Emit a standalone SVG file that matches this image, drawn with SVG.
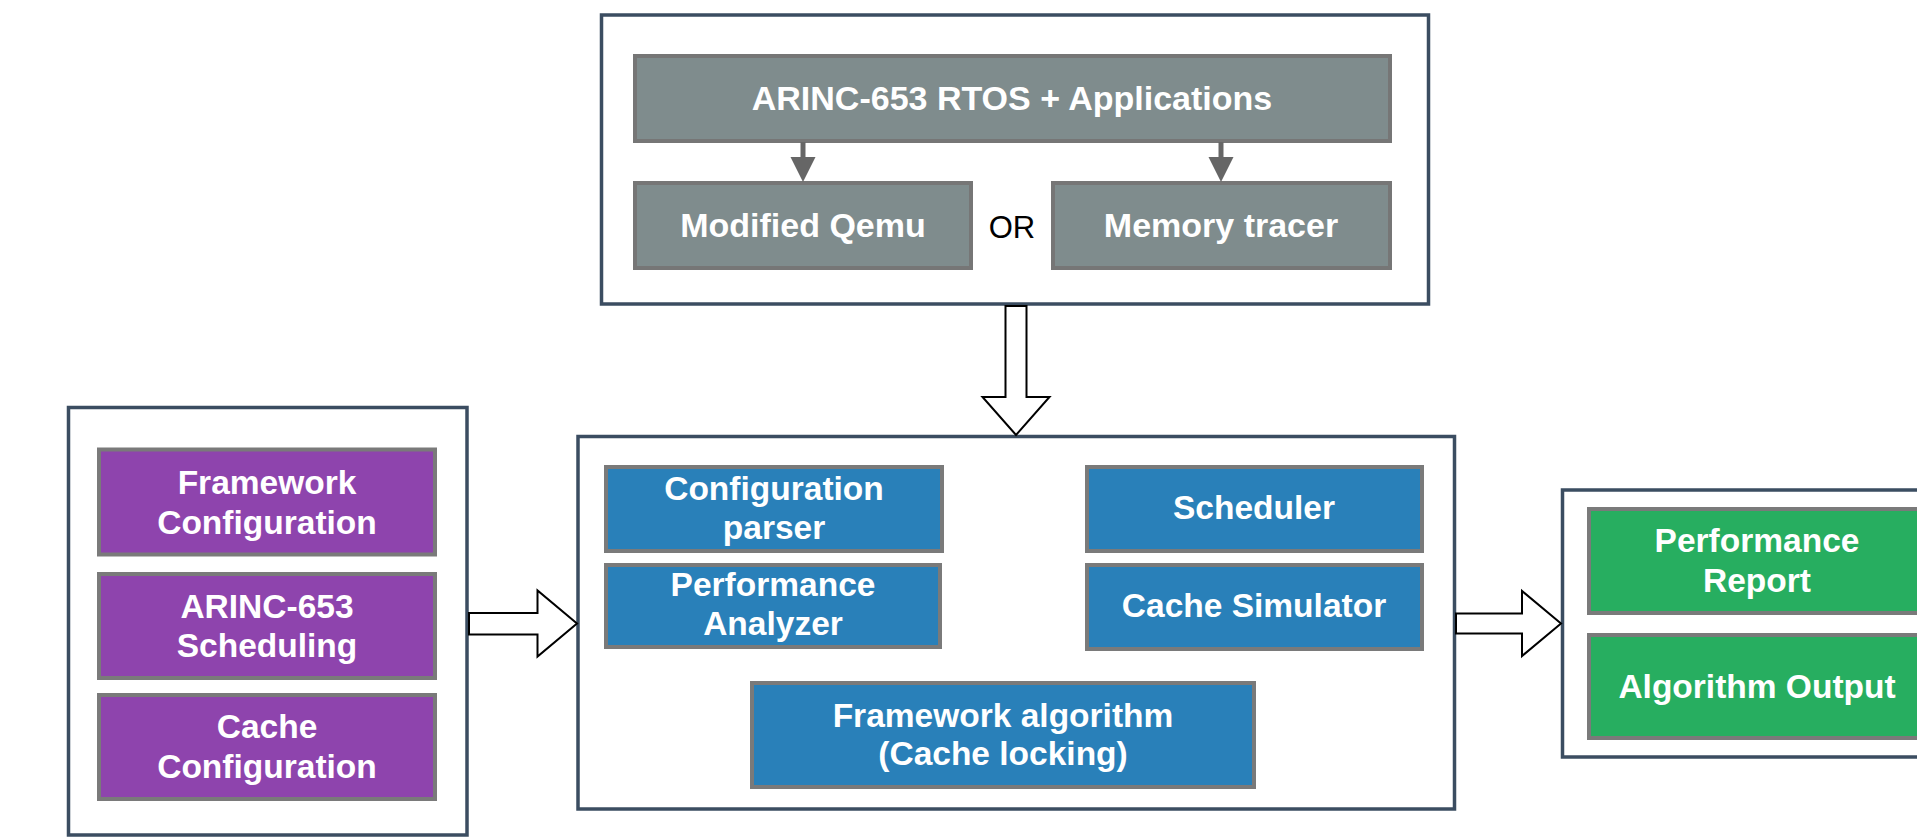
<svg xmlns="http://www.w3.org/2000/svg" width="1917" height="839" viewBox="0 0 1917 839">
<style>
.frame{fill:#ffffff;stroke:#3b4d61;stroke-width:3.5}
.gray{fill:#7f8c8d;stroke:#767676;stroke-width:4}
.purple{fill:#8e44ad;stroke:#7a7a7a;stroke-width:4}
.blue{fill:#2980b9;stroke:#7a7a7a;stroke-width:4}
.green{fill:#27ae60;stroke:#7a7a7a;stroke-width:4}
.t{font-family:"Liberation Sans",Arial,Helvetica,sans-serif;font-weight:bold;font-size:33.5px;fill:#ffffff;text-anchor:middle}
.tl{font-size:34px}
.or{font-family:"Liberation Sans",Arial,Helvetica,sans-serif;font-size:31px;fill:#000000;text-anchor:middle}
.hollow{fill:#ffffff;stroke:#000000;stroke-width:2;stroke-linejoin:miter}
.thin{stroke:#666666;stroke-width:5;fill:none}
.head{fill:#666666}
</style>
<rect width="1917" height="839" fill="#ffffff"/>

<g id="source-group">
<rect class="frame" x="601.5" y="15" width="827" height="289"/>
</g>
<g id="arinc-rtos">
<rect class="gray" x="635" y="56" width="755" height="85"/>
<text class="t tl" x="1012" y="110">ARINC-653 RTOS + Applications</text>
</g>
<g id="modified-qemu">
<rect class="gray" x="635" y="183" width="336" height="85"/>
<text class="t tl" x="803" y="237">Modified Qemu</text>
</g>
<text class="or" x="1012" y="238">OR</text>
<g id="memory-tracer">
<rect class="gray" x="1053" y="183" width="337" height="85"/>
<text class="t tl" x="1221" y="237">Memory tracer</text>
</g>

<g id="config-group">
<rect class="frame" x="68.5" y="407.5" width="398.5" height="427.5"/>
</g>
<g id="framework-configuration">
<rect class="purple" x="99" y="449.5" width="336" height="105"/>
<text class="t" x="267" y="494">Framework</text>
<text class="t" x="267" y="534">Configuration</text>
</g>
<g id="arinc-scheduling">
<rect class="purple" x="99" y="574" width="336" height="104"/>
<text class="t" x="267" y="618">ARINC-653</text>
<text class="t" x="267" y="657">Scheduling</text>
</g>
<g id="cache-configuration">
<rect class="purple" x="99" y="695" width="336" height="104"/>
<text class="t" x="267" y="738">Cache</text>
<text class="t" x="267" y="778">Configuration</text>
</g>

<g id="framework-group">
<rect class="frame" x="578" y="436.5" width="876.5" height="372.5"/>
</g>
<g id="configuration-parser">
<rect class="blue" x="606" y="467" width="336" height="84"/>
<text class="t" x="774" y="500">Configuration</text>
<text class="t" x="774" y="539">parser</text>
</g>
<g id="performance-analyzer">
<rect class="blue" x="606" y="565" width="334" height="82"/>
<text class="t" x="773" y="596">Performance</text>
<text class="t" x="773" y="635">Analyzer</text>
</g>
<g id="scheduler">
<rect class="blue" x="1087" y="467" width="335" height="84"/>
<text class="t" x="1254" y="519">Scheduler</text>
</g>
<g id="cache-simulator">
<rect class="blue" x="1087" y="565" width="335" height="84"/>
<text class="t" x="1254" y="617">Cache Simulator</text>
</g>
<g id="framework-algorithm">
<rect class="blue" x="752" y="683" width="502" height="104"/>
<text class="t" x="1003" y="727">Framework algorithm</text>
<text class="t" x="1003" y="765">(Cache locking)</text>
</g>

<g id="output-group">
<rect class="frame" x="1562.5" y="490" width="400" height="267"/>
</g>
<g id="performance-report">
<rect class="green" x="1589" y="509" width="338" height="104"/>
<text class="t" x="1757" y="552">Performance</text>
<text class="t" x="1757" y="592">Report</text>
</g>
<g id="algorithm-output">
<rect class="green" x="1589" y="635" width="338" height="103"/>
<text class="t" x="1757" y="698">Algorithm Output</text>
</g>

<g id="connectors">
<line class="thin" x1="803" y1="142" x2="803" y2="160"/>
<polygon class="head" points="790.5,157 815.5,157 803,182"/>
<line class="thin" x1="1221" y1="142" x2="1221" y2="160"/>
<polygon class="head" points="1208.5,157 1233.5,157 1221,182"/>
<polygon class="hollow" points="1005.5,306 1026.5,306 1026.5,397 1049.5,397 1016,435 982.5,397 1005.5,397"/>
<polygon class="hollow" points="469,613 537.5,613 537.5,590.5 577,623.5 537.5,656.5 537.5,634.5 469,634.5"/>
<polygon class="hollow" points="1456,613.5 1522,613.5 1522,591 1561,623.5 1522,656 1522,633.5 1456,633.5"/>
</g>
</svg>
